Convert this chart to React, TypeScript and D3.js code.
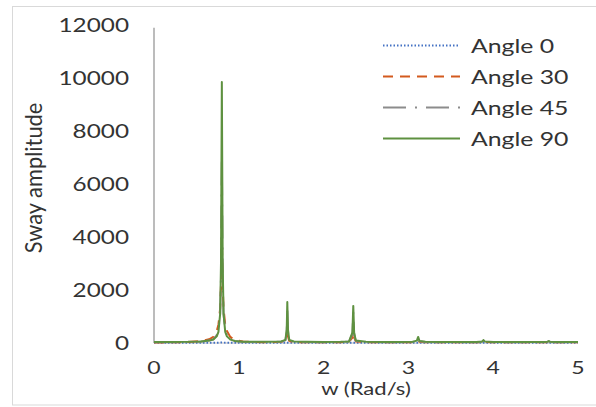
import React from "react";
import * as d3 from "d3";

const W = [0,0.2,0.4,0.55,0.65,0.7,0.74,0.76,0.78,0.79,0.8,0.81,0.82,0.84,0.86,0.9,0.95,1.05,1.2,1.35,1.5,1.55,1.565,1.572,1.58,1.595,1.65,1.8,2.0,2.2,2.3,2.34,2.35,2.36,2.38,2.5,2.7,2.9,3.05,3.1,3.115,3.13,3.2,3.4,3.6,3.8,3.87,3.885,3.9,4.0,4.2,4.4,4.6,4.64,4.655,4.67,4.75,4.9,5.0];

const angle0 = [5,5,5,6,6,8,10,12,15,18,20,18,15,12,10,8,6,5,5,5,5,6,8,10,8,6,5,5,5,5,5,6,8,6,5,5,5,5,5,5,6,5,5,5,5,5,5,6,5,5,5,5,5,5,5,5,5,5,5];
const angle30 = [20,25,35,70,140,230,450,700,1300,2200,4000,2200,1300,700,450,230,120,55,35,30,40,80,250,600,250,80,35,30,25,30,40,200,450,200,60,30,25,25,30,50,90,50,30,25,25,25,35,55,35,25,25,25,25,30,45,30,25,25,25];
const angle45 = [30,30,35,50,90,140,300,500,1100,2500,7000,2500,1100,500,300,140,75,40,35,35,50,100,420,1300,420,100,45,35,30,35,50,340,1150,340,80,35,30,30,40,75,180,70,35,30,30,30,50,90,50,30,30,30,30,40,60,40,30,30,30];
const angle90 = [40,40,45,60,90,130,250,420,1100,3000,9850,3000,1100,420,250,130,80,50,45,45,60,120,500,1550,500,120,55,45,40,45,60,400,1400,400,90,45,40,40,50,90,230,80,45,40,40,40,60,110,60,40,40,40,40,50,75,50,40,40,35];

const seriesNames = ["Angle 0", "Angle 30", "Angle 45", "Angle 90"];
const seriesValues = [angle0, angle30, angle45, angle90];
const seriesColors = ["#4472C4", "#D35A1E", "#8C8C8C", "#5E9140"];
const seriesDash = ["1.5,2", "10,7", "23,9,2,9", "none"];

const xTicks = [0, 1, 2, 3, 4, 5];
const yTicks = [0, 2000, 4000, 6000, 8000, 10000, 12000];

const FONT = "Lato, 'Open Sans', sans-serif";
const TEXT = "#333333";

export default function App() {
  const width = 596;
  const height = 407;
  const x = d3.scaleLinear().domain([0, 5]).range([154, 578]);
  const y = d3.scaleLinear().domain([0, 12000]).range([343, 25]);
  const line = d3
    .line<number>()
    .x((_, i) => x(W[i]))
    .y((v) => y(v));

  const tsx = 1.28;
  const lsx = 1.34;

  return (
    <svg
      width={width}
      height={height}
      style={{ position: "absolute", left: 0, top: 0, background: "#fff" }}
    >
      <rect x={12.5} y={6.5} width={600} height={398.5} fill="#fff" stroke="#d9d9d9" strokeWidth={1} />
      <line x1={x(0)} x2={x(0)} y1={y(11900)} y2={y(0)} stroke="#a6a6a6" strokeWidth={1.5} />
      <line x1={x(0)} x2={x(5)} y1={y(0)} y2={y(0)} stroke="#bfbfbf" strokeWidth={1} />

      {yTicks.map((t) => (
        <text
          key={t}
          transform={`translate(129,${y(t) + 7}) scale(${tsx},1)`}
          textAnchor="end"
          fontFamily={FONT}
          fontSize={19}
          fill={TEXT}
        >
          {t}
        </text>
      ))}
      {xTicks.map((t) => (
        <text
          key={t}
          transform={`translate(${x(t)},374) scale(${tsx},1)`}
          textAnchor="middle"
          fontFamily={FONT}
          fontSize={18}
          fill={TEXT}
        >
          {t}
        </text>
      ))}

      <text
        transform={`translate(366,395) scale(1.3,1)`}
        textAnchor="middle"
        fontFamily={FONT}
        fontSize={17}
        fill={TEXT}
      >
        w (Rad/s)
      </text>
      <text
        transform={`translate(42,178) rotate(-90) scale(1.15,1.2)`}
        textAnchor="middle"
        fontFamily={FONT}
        fontSize={19}
        fill={TEXT}
      >
        Sway amplitude
      </text>

      {seriesValues.map((vals, i) => (
        <path
          key={seriesNames[i]}
          d={line(vals) || ""}
          fill="none"
          stroke={seriesColors[i]}
          strokeWidth={2}
          strokeDasharray={seriesDash[i]}
          strokeLinejoin="round"
        />
      ))}

      {seriesNames.map((name, i) => {
        const ly = 45.5 + i * 31;
        return (
          <g key={name}>
            <line
              x1={383}
              x2={460}
              y1={ly}
              y2={ly}
              stroke={seriesColors[i]}
              strokeWidth={2}
              strokeDasharray={seriesDash[i]}
            />
            <text
              transform={`translate(471,${ly + 7}) scale(${lsx},1)`}
              fontFamily={FONT}
              fontSize={18.5}
              fill={TEXT}
            >
              {name}
            </text>
          </g>
        );
      })}
    </svg>
  );
}
